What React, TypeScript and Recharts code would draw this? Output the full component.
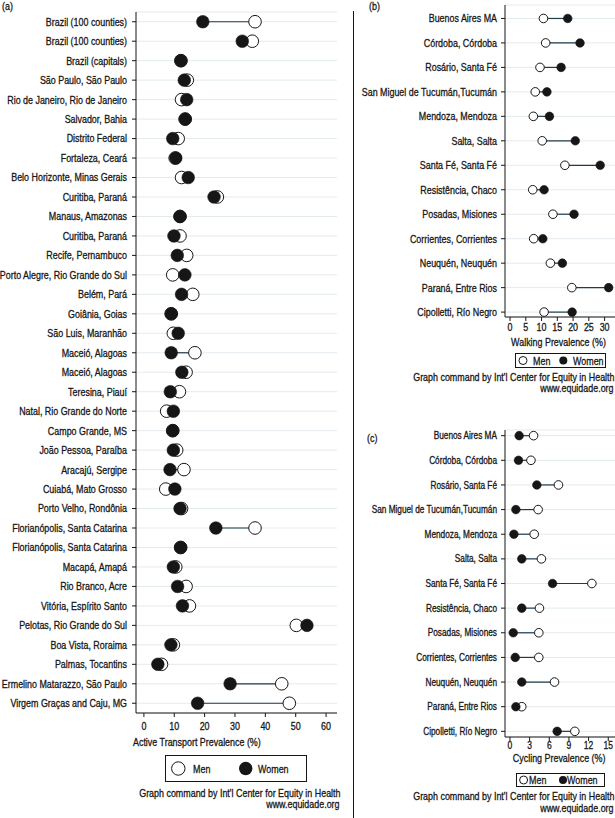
import React from "react";
import { ScatterChart, Scatter, XAxis, YAxis, CartesianGrid } from "recharts";

// Arial metrics squeezed horizontally stand in for the condensed Stata font
const FONT = "'Liberation Sans', Arial, sans-serif";
const SQUEEZE = 0.81;
const INK = "#161616";
const LINK = "#1f3a4a";
const GRID = "#e3ebef";
const HEAVY = 0.3;

// (a) Brazil – active transport
const brazilCities = [
  "Brazil (100 counties)",
  "Brazil (100 counties)",
  "Brazil (capitals)",
  "São Paulo, São Paulo",
  "Rio de Janeiro, Rio de Janeiro",
  "Salvador, Bahia",
  "Distrito Federal",
  "Fortaleza, Ceará",
  "Belo Horizonte, Minas Gerais",
  "Curitiba, Paraná",
  "Manaus, Amazonas",
  "Curitiba, Paraná",
  "Recife, Pernambuco",
  "Porto Alegre, Rio Grande do Sul",
  "Belém, Pará",
  "Goiânia, Goias",
  "São Luis, Maranhão",
  "Maceió, Alagoas",
  "Maceió, Alagoas",
  "Teresina, Piauí",
  "Natal, Rio Grande do Norte",
  "Campo Grande, MS",
  "João Pessoa, Paraíba",
  "Aracajú, Sergipe",
  "Cuiabá, Mato Grosso",
  "Porto Velho, Rondônia",
  "Florianópolis, Santa Catarina",
  "Florianópolis, Santa Catarina",
  "Macapá, Amapá",
  "Rio Branco, Acre",
  "Vitória, Espírito Santo",
  "Pelotas, Rio Grande do Sul",
  "Boa Vista, Roraima",
  "Palmas, Tocantins",
  "Ermelino Matarazzo, São Paulo",
  "Virgem Graças and Caju, MG",
];
const brazilMen = [
  36.6, 35.7, 12.2, 14.3, 12.4, 13.6, 11.3, 10.3, 12.4, 24.2, 11.9, 11.9,
  14.1, 9.5, 16.1, 9.0, 9.7, 16.8, 13.9, 11.7, 7.5, 9.5, 10.8, 13.2, 7.2,
  12.4, 36.6, 12.1, 10.5, 13.9, 15.0, 50.2, 9.7, 5.8, 45.4, 47.9,
];
const brazilWomen = [
  19.4, 32.4, 12.2, 13.3, 14.1, 13.6, 9.5, 10.5, 14.6, 23.1, 11.9, 9.9,
  11.0, 13.5, 12.4, 9.0, 11.3, 9.0, 12.5, 8.7, 9.7, 9.5, 9.7, 8.6, 10.2,
  11.9, 23.7, 12.1, 9.7, 11.1, 12.7, 53.7, 8.9, 4.6, 28.4, 17.7,
];
const brazilTicks = [0, 10, 20, 30, 40, 50, 60];

// (b) and (c) Argentina – walking and cycling
const argentinaCities = [
  "Buenos Aires MA",
  "Córdoba, Córdoba",
  "Rosário, Santa Fé",
  "San Miguel de Tucumán,Tucumán",
  "Mendoza, Mendoza",
  "Salta, Salta",
  "Santa Fé, Santa Fé",
  "Resistência, Chaco",
  "Posadas, Misiones",
  "Corrientes, Corrientes",
  "Neuquén, Neuquén",
  "Paraná, Entre Rios",
  "Cipolletti, Río Negro",
];
const walkingMen = [10.6, 11.3, 9.5, 8.0, 7.4, 10.2, 17.4, 7.2, 13.6, 7.5, 12.8, 19.6, 10.8];
const walkingWomen = [18.3, 22.2, 16.2, 11.7, 12.5, 20.7, 28.6, 10.8, 20.3, 10.4, 16.6, 31.3, 19.7];
const walkingTicks = [0, 5, 10, 15, 20, 25, 30];

const cyclingMen = [3.6, 3.2, 7.4, 4.3, 3.7, 4.8, 12.5, 4.5, 4.4, 4.4, 6.8, 1.8, 9.9];
const cyclingWomen = [1.4, 1.3, 4.1, 0.9, 0.6, 1.8, 6.5, 1.8, 0.5, 0.8, 1.8, 0.9, 7.2];
const cyclingTicks = [0, 3, 6, 9, 12, 15];

const noDot = () => <g />;

type PanelProps = {
  cities: string[];
  men: number[];
  women: number[];
  ticks: number[];
  xDomain: [number, number];
  yDomain: [number, number];
  left: number;
  top: number;
  width: number;
  height: number;
  margin: { top: number; right: number; bottom: number; left: number };
  yWidth: number;
  r: number;
  labelSize: number;
  tickSize: number;
  yTickMargin: number;
  xTickMargin: number;
};

function Panel(p: PanelProps) {
  const menPts = p.men.map((v, i) => ({ x: v, y: i }));
  const womenPts = p.women.map((v, i) => ({ x: v, y: i }));
  const rows = p.cities.map((_, i) => i);

  const yTick = (t: any) => (
    <g transform={`translate(${t.x},${t.y})`}>
      <text
        transform={`scale(${SQUEEZE},1)`}
        textAnchor="end"
        dy="0.355em"
        fill={INK}
        stroke={INK}
        strokeWidth={HEAVY}
        fontSize={p.labelSize}
        fontFamily={FONT}
      >
        {p.cities[t.payload.value]}
      </text>
    </g>
  );
  const xTick = (t: any) => (
    <g transform={`translate(${t.x},${t.y})`}>
      <text
        transform={`scale(${SQUEEZE},1)`}
        textAnchor="middle"
        dy="0.71em"
        fill={INK}
        stroke={INK}
        strokeWidth={HEAVY}
        fontSize={p.tickSize}
        fontFamily={FONT}
      >
        {t.payload.value}
      </text>
    </g>
  );

  return (
    <div style={{ position: "absolute", left: p.left, top: p.top }}>
      <ScatterChart width={p.width} height={p.height} margin={p.margin}>
        <CartesianGrid horizontal vertical={false} stroke={GRID} strokeWidth={1} />
        <XAxis
          type="number"
          dataKey="x"
          domain={p.xDomain}
          ticks={p.ticks}
          interval={0}
          allowDataOverflow
          height={20}
          tickSize={4}
          tickMargin={p.xTickMargin}
          axisLine={{ stroke: INK }}
          tickLine={{ stroke: INK }}
          tick={xTick}
        />
        <YAxis
          type="number"
          dataKey="y"
          domain={p.yDomain}
          ticks={rows}
          interval={0}
          reversed
          allowDataOverflow
          width={p.yWidth}
          tickSize={4}
          tickMargin={p.yTickMargin}
          axisLine={{ stroke: INK }}
          tickLine={{ stroke: INK }}
          tick={yTick}
        />
        {rows.map((i) => (
          <Scatter
            key={"l" + i}
            data={[
              { x: p.men[i], y: i },
              { x: p.women[i], y: i },
            ]}
            line={{ stroke: LINK, strokeWidth: 1.2 }}
            shape={noDot}
            isAnimationActive={false}
          />
        ))}
        <Scatter
          data={menPts}
          isAnimationActive={false}
          shape={(s: any) => <circle cx={s.cx} cy={s.cy} r={p.r} fill="#fff" stroke={INK} strokeWidth={1} />}
        />
        <Scatter
          data={womenPts}
          isAnimationActive={false}
          shape={(s: any) => <circle cx={s.cx} cy={s.cy} r={p.r} fill={INK} stroke={INK} strokeWidth={0.6} />}
        />
      </ScatterChart>
    </div>
  );
}

type Align = "left" | "right" | "center";

// x is the left edge, right edge or centre of the text depending on align; y is the text's vertical centre
function Txt(props: { x: number; y: number; align?: Align; size?: number; children: React.ReactNode }) {
  const align = props.align ?? "left";
  const size = props.size ?? 11;
  const box: React.CSSProperties = {
    position: "absolute",
    top: props.y - 7,
    height: 14,
    lineHeight: "14px",
    fontFamily: FONT,
    fontSize: size,
    color: INK,
    whiteSpace: "nowrap",
    textAlign: align,
    WebkitTextStroke: `${HEAVY}px ${INK}`,
  };
  if (align === "left") {
    box.left = props.x;
  } else if (align === "right") {
    box.left = props.x - 400;
    box.width = 400;
  } else {
    box.left = props.x - 200;
    box.width = 400;
  }
  return (
    <div style={box}>
      <span style={{ display: "inline-block", transform: `scaleX(${SQUEEZE})`, transformOrigin: align }}>{props.children}</span>
    </div>
  );
}

function Legend(props: { left: number; top: number; w: number; h: number; r: number; m: number; mt: number; f: number; ft: number }) {
  const { left, top, w, h, r, m, mt, f, ft } = props;
  return (
    <>
      <svg width={w} height={h} style={{ position: "absolute", left, top }}>
        <rect x={0.5} y={0.5} width={w - 1} height={h - 1} fill="#fff" stroke={INK} strokeWidth={1} />
        <circle cx={m} cy={h / 2} r={r} fill="#fff" stroke={INK} strokeWidth={1} />
        <circle cx={f} cy={h / 2} r={r} fill={INK} />
      </svg>
      <Txt x={left + mt} y={top + h / 2}>Men</Txt>
      <Txt x={left + ft} y={top + h / 2}>Women</Txt>
    </>
  );
}

function Footer(props: { right: number; y: number }) {
  return (
    <>
      <Txt x={props.right} y={props.y} align="right">
        Graph command by Int'l Center for Equity in Health
      </Txt>
      <Txt x={props.right} y={props.y + 11.5} align="right">
        www.equidade.org
      </Txt>
    </>
  );
}

export default function App() {
  return (
    <div style={{ position: "absolute", left: 0, top: 0, width: 615, height: 818, background: "#fff", overflow: "hidden" }}>
      <Panel
        cities={brazilCities}
        men={brazilMen}
        women={brazilWomen}
        ticks={brazilTicks}
        xDomain={[-2.6, 63.6]}
        yDomain={[-0.5, 35.5]}
        left={0}
        top={0}
        width={345}
        height={735}
        margin={{ top: 12, right: 8, bottom: 2, left: 0 }}
        yWidth={136}
        r={6.3}
        labelSize={11}
        tickSize={11}
        yTickMargin={5}
        xTickMargin={5}
      />
      <Panel
        cities={argentinaCities}
        men={walkingMen}
        women={walkingWomen}
        ticks={walkingTicks}
        xDomain={[-1.6, 33.3]}
        yDomain={[-0.55, 12.2]}
        left={360}
        top={0}
        width={255}
        height={340}
        margin={{ top: 5, right: 0, bottom: 3, left: 0 }}
        yWidth={145}
        r={4.3}
        labelSize={11}
        tickSize={11}
        yTickMargin={4}
        xTickMargin={2}
      />
      <Panel
        cities={argentinaCities}
        men={cyclingMen}
        women={cyclingWomen}
        ticks={cyclingTicks}
        xDomain={[-0.76, 16.03]}
        yDomain={[-0.23, 12.23]}
        left={360}
        top={420}
        width={255}
        height={340}
        margin={{ top: 10, right: 0, bottom: 3, left: 0 }}
        yWidth={145}
        r={4.3}
        labelSize={10.2}
        tickSize={10.5}
        yTickMargin={4}
        xTickMargin={1}
      />

      <div style={{ position: "absolute", left: 353, top: 11, width: 1, height: 807, background: INK }} />

      <Txt x={2} y={6}>(a)</Txt>
      <Txt x={369} y={6}>(b)</Txt>
      <Txt x={367} y={438}>(c)</Txt>

      <Txt x={133} y={742}>Active Transport Prevalence (%)</Txt>
      <Txt x={558.7} y={342} align="center">Walking Prevalence (%)</Txt>
      <Txt x={559} y={757.5} align="center">Cycling Prevalence (%)</Txt>

      <Legend left={165} top={755} w={142} h={27} r={6.7} m={13.3} mt={28.3} f={80.7} ft={92.7} />
      <Legend left={515} top={353} w={91} h={15} r={4} m={8} mt={17.7} f={48.3} ft={58.3} />
      <Legend left={516} top={773} w={89} h={14} r={4} m={7.6} mt={12.6} f={47} ft={51} />

      <Footer right={340} y={792.7} />
      <Footer right={614} y={376.7} />
      <Footer right={614} y={796} />
    </div>
  );
}
